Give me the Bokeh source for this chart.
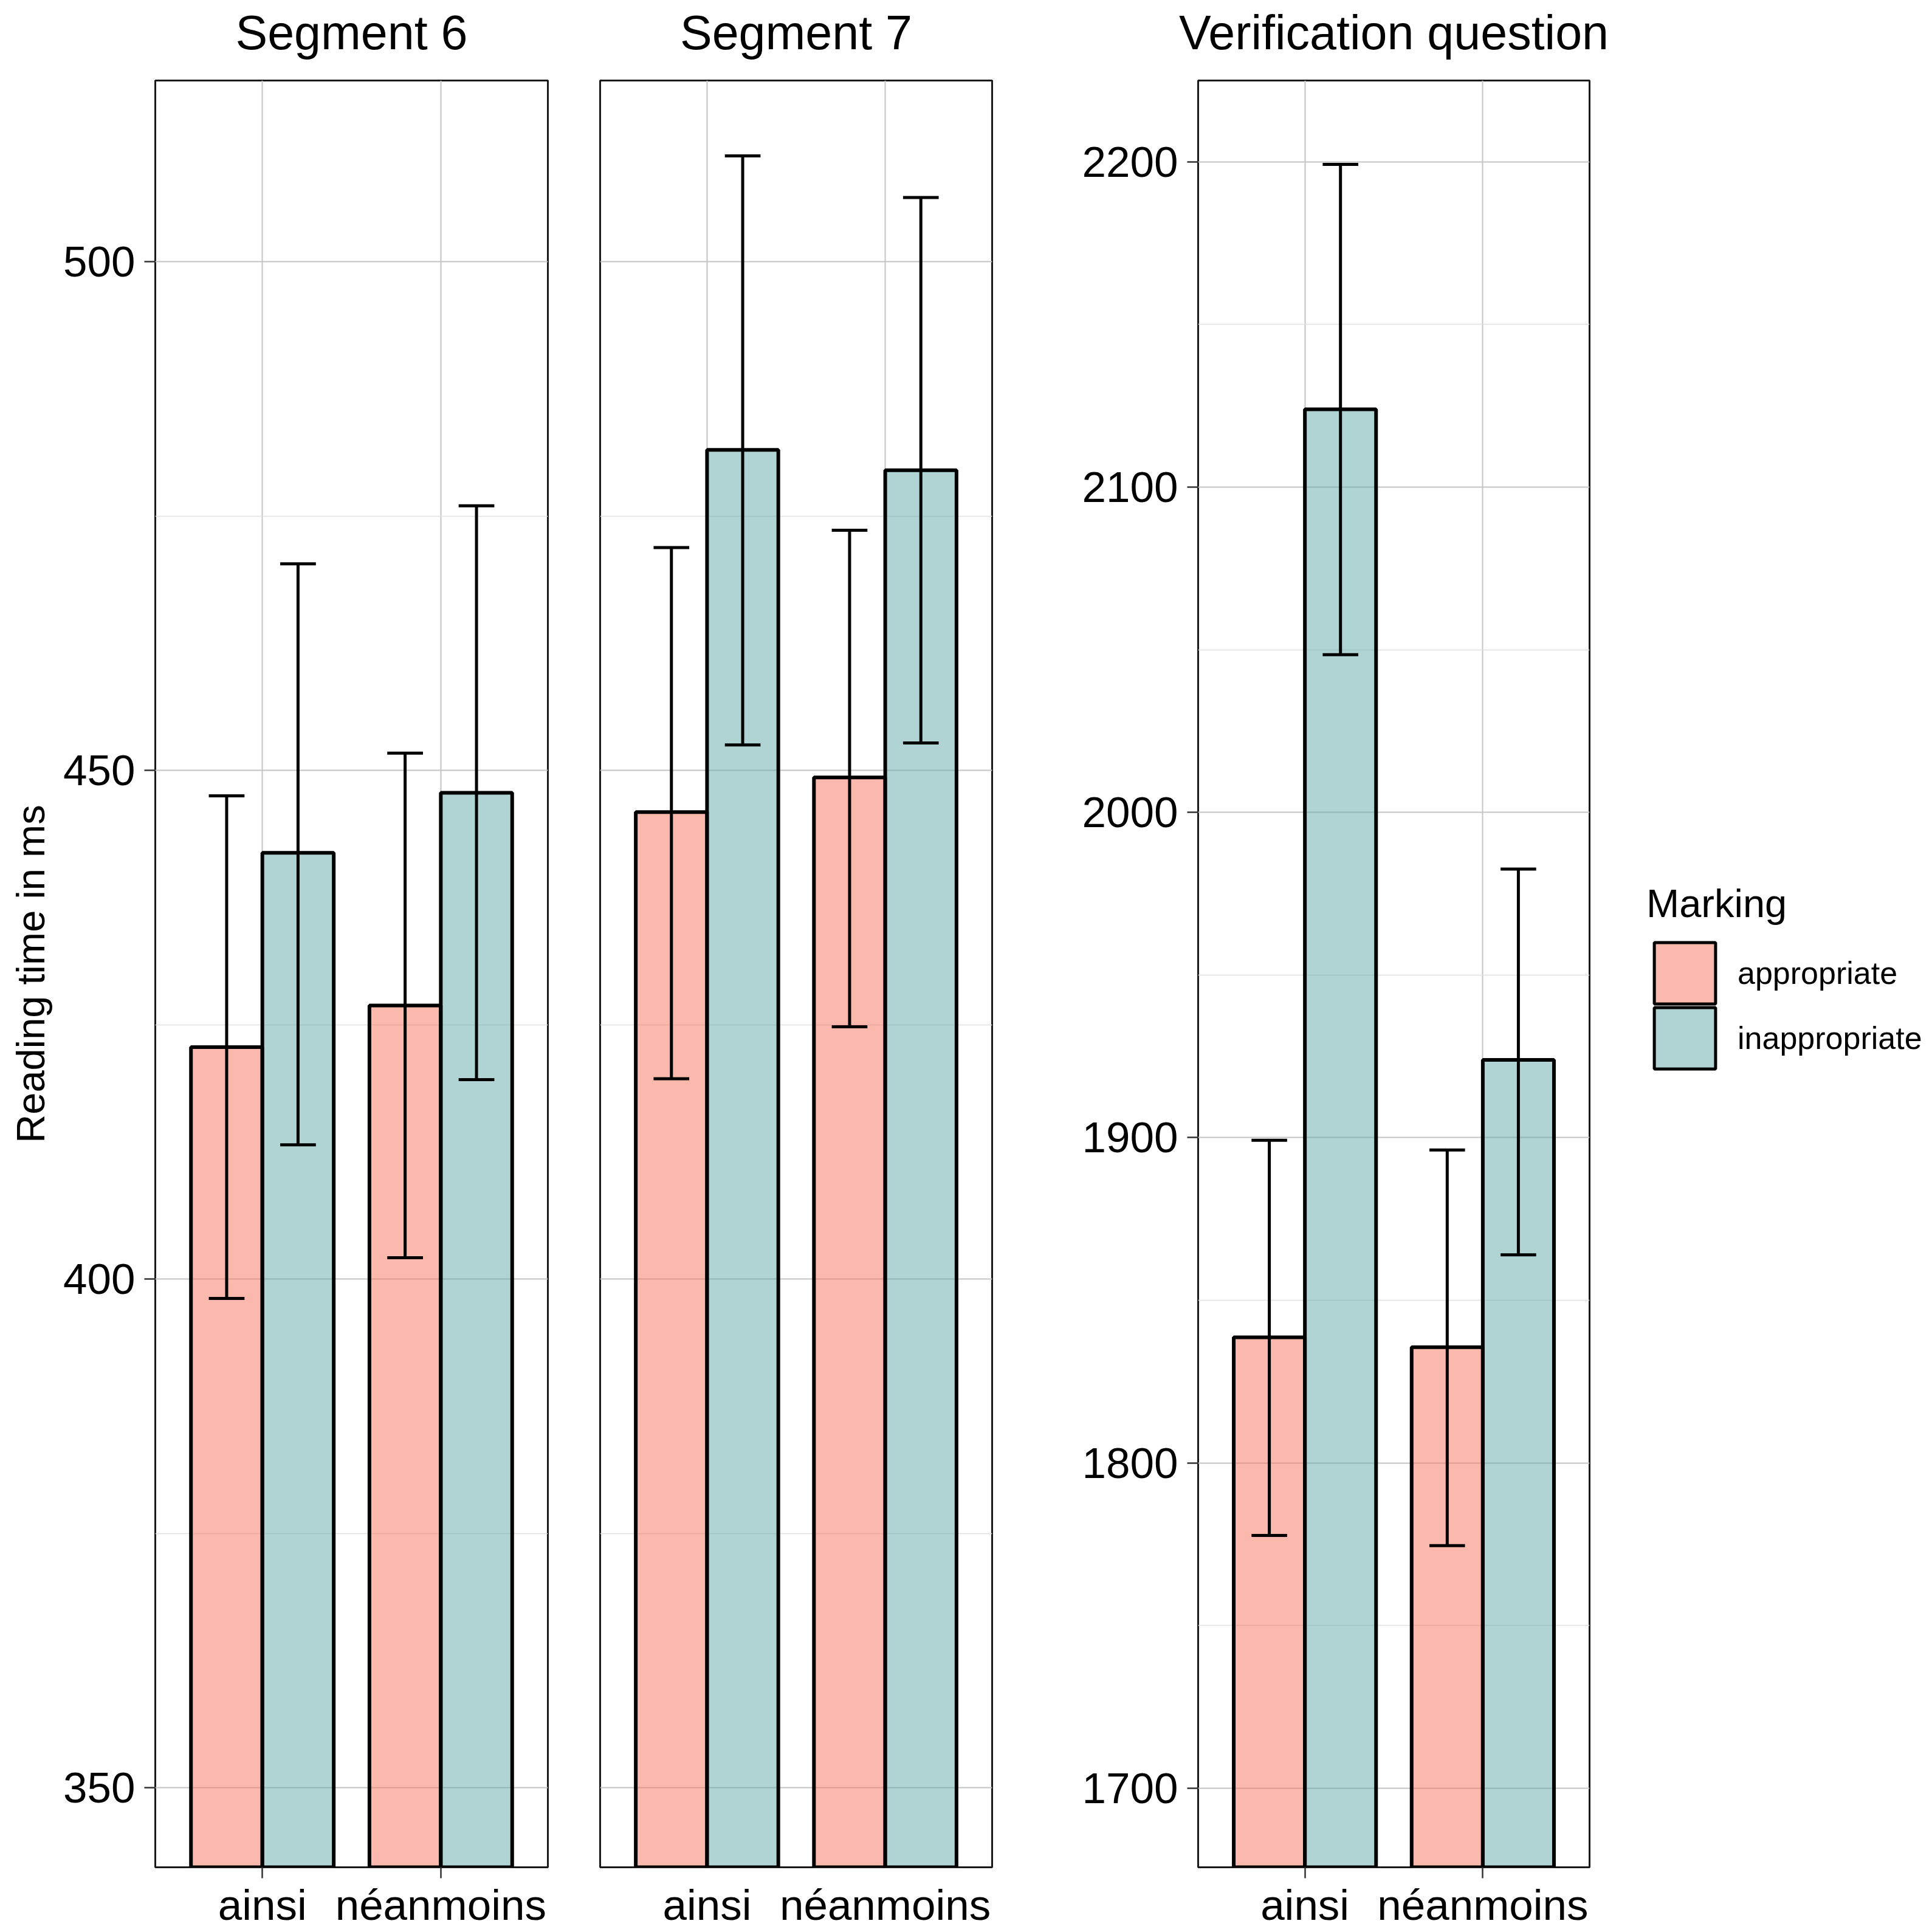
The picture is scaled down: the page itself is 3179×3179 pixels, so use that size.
from bokeh.plotting import figure
from bokeh.layouts import row
from bokeh.models import (Range1d, FixedTicker, Legend, LegendItem,
                          ColumnDataSource, LinearAxis)
from bokeh.embed import file_html
from bokeh.resources import INLINE
import numpy as np

FONT = "Liberation Sans"

# ---------------- data ----------------
panel_titles = ["Segment 6", "Segment 7", "Verification question"]
categories = ["ainsi", "néanmoins"]
markings = ["appropriate", "inappropriate"]

seg6_app = [422.8, 426.9]
seg6_app_lo = [398.1, 402.1]
seg6_app_hi = [447.5, 451.7]
seg6_inapp = [441.9, 447.8]
seg6_inapp_lo = [413.2, 419.6]
seg6_inapp_hi = [470.3, 476.0]

seg7_app = [445.9, 449.3]
seg7_app_lo = [419.7, 424.8]
seg7_app_hi = [471.9, 473.6]
seg7_inapp = [481.5, 479.5]
seg7_inapp_lo = [452.5, 452.7]
seg7_inapp_hi = [510.4, 506.3]

verif_app = [1838.6, 1835.6]
verif_app_lo = [1777.7, 1774.6]
verif_app_hi = [1899.2, 1896.2]
verif_inapp = [2123.9, 1923.9]
verif_inapp_lo = [2048.5, 1864.0]
verif_inapp_hi = [2199.2, 1982.6]

rt_ticks = [350, 400, 450, 500]
rt_minor = [375, 425, 475]
verif_ticks = [1700, 1800, 1900, 2000, 2100, 2200]
verif_minor = [1750, 1850, 1950, 2050, 2150]

# ---------------- style ----------------
fill_colors = ["#F7715A", "#61A9A9"]
FILL_ALPHA = 0.5
H = 3179
TOP = 132
BOTTOM = 107
X_RANGE = (0.4, 2.6)

xpos = np.arange(1, len(categories) + 1)
BAR_W = 0.4
CAP_W = 0.2


def make_panel(title, width, left, right, yr, ticks, minor, show_y_labels,
               show_x_ticks, ylabel=None):
    p = figure(width=width, height=H, x_range=Range1d(*X_RANGE),
               y_range=Range1d(*yr), output_backend="svg",
               toolbar_location=None, title=title,
               min_border_left=left, min_border_right=right,
               min_border_top=TOP, min_border_bottom=BOTTOM)
    p.background_fill_color = "white"
    p.border_fill_color = "white"
    p.outline_line_color = "#1a1a1a"
    p.outline_line_width = 3

    p.title.align = "center"
    p.title.text_font = FONT
    p.title.text_font_size = "79px"
    p.title.text_font_style = "normal"
    p.title.text_color = "black"
    p.title.standoff = 12

    # blank spacer axis between frame and title: a hidden tick, blank label
    mid = sum(X_RANGE) / 2
    spacer = LinearAxis(ticker=FixedTicker(ticks=[mid]), axis_line_color=None,
                        major_tick_out=25, major_tick_in=0, minor_tick_out=0,
                        minor_tick_in=0, major_label_standoff=0,
                        major_tick_line_color="white",
                        major_tick_line_alpha=0.0,
                        major_label_text_font_size="1px",
                        major_label_text_color="white",
                        major_label_overrides={mid: " "},
                        minor_tick_line_color=None)
    p.add_layout(spacer, "above")

    # x axis
    xa = p.below[0]
    xa.ticker = FixedTicker(ticks=list(xpos))
    xa.major_label_overrides = {int(x): c for x, c in zip(xpos, categories)}
    xa.major_label_text_font = FONT
    xa.major_label_text_font_size = "71px"
    xa.major_label_text_color = "black"
    xa.axis_line_color = None
    xa.minor_tick_out = 0
    xa.minor_tick_in = 0
    xa.major_tick_in = 0
    xa.major_tick_line_color = "#333333"
    xa.major_tick_line_width = 2.5
    if show_x_ticks:
        xa.major_tick_out = 18
        xa.major_label_standoff = 4
    else:
        xa.major_tick_out = 0
        xa.major_label_standoff = 22

    # y axis
    ya = p.yaxis[0]
    ya.ticker = FixedTicker(ticks=ticks, minor_ticks=minor)
    ya.axis_line_color = None
    ya.minor_tick_out = 0
    ya.minor_tick_in = 0
    ya.major_tick_in = 0
    ya.major_tick_out = 18
    ya.major_tick_line_color = "#333333"
    ya.major_tick_line_width = 2.5
    ya.major_label_text_font = FONT
    ya.major_label_text_font_size = "71px"
    ya.major_label_text_color = "black"
    ya.major_label_standoff = 15
    if ylabel:
        ya.axis_label = ylabel
        ya.axis_label_text_font = FONT
        ya.axis_label_text_font_size = "65px"
        ya.axis_label_text_font_style = "normal"
        ya.axis_label_text_color = "black"
        ya.axis_label_standoff = 14
    if not show_y_labels:
        ya.visible = False

    # grids
    p.xgrid.ticker = FixedTicker(ticks=list(xpos))
    p.xgrid.grid_line_color = "#C4C4C4"
    p.xgrid.grid_line_width = 2
    p.ygrid.ticker = FixedTicker(ticks=ticks, minor_ticks=minor)
    p.ygrid.grid_line_color = "#C4C4C4"
    p.ygrid.grid_line_width = 2
    p.ygrid.minor_grid_line_color = "#E0E0E0"
    p.ygrid.minor_grid_line_width = 1.5
    return p


def add_bars(p, series):
    rends = []
    for j, (vals, lo, hi) in enumerate(series):
        off = (j - 0.5) * BAR_W
        x = xpos + off
        src = ColumnDataSource(dict(x=x, xl=x - CAP_W / 2, xr=x + CAP_W / 2,
                                    top=vals, lo=lo, hi=hi))
        r = p.vbar(x="x", top="top", bottom=0, width=BAR_W, source=src,
                   fill_color=fill_colors[j], fill_alpha=FILL_ALPHA,
                   line_color="black", line_width=6)
        p.segment(x0="x", x1="x", y0="lo", y1="hi", source=src,
                  line_color="black", line_width=5)
        p.segment(x0="xl", x1="xr", y0="hi", y1="hi", source=src,
                  line_color="black", line_width=5)
        p.segment(x0="xl", x1="xr", y0="lo", y1="lo", source=src,
                  line_color="black", line_width=5)
        rends.append(r)
    return rends


W1, W2, W3 = 944, 736, 985

p1 = make_panel(panel_titles[0], W1, 255, 43, (342.2, 517.8), rt_ticks,
                rt_minor, True, True, ylabel="Reading time in ms")
add_bars(p1, [(seg6_app, seg6_app_lo, seg6_app_hi),
              (seg6_inapp, seg6_inapp_lo, seg6_inapp_hi)])

p2 = make_panel(panel_titles[1], W2, 43, 48, (342.2, 517.8), rt_ticks,
                rt_minor, False, False)
add_bars(p2, [(seg7_app, seg7_app_lo, seg7_app_hi),
              (seg7_inapp, seg7_inapp_lo, seg7_inapp_hi)])

p3 = make_panel(panel_titles[2], W3, 291, 50, (1675.7, 2225.0), verif_ticks,
                verif_minor, True, True)
add_bars(p3, [(verif_app, verif_app_lo, verif_app_hi),
              (verif_inapp, verif_inapp_lo, verif_inapp_hi)])

# ---------------- legend panel ----------------
W4 = 3179 - W1 - W2 - W3
p4 = figure(width=W4, height=H, x_range=Range1d(0, 1),
            y_range=Range1d(0, 1), output_backend="svg", toolbar_location=None,
            min_border_left=0, min_border_right=0, min_border_top=TOP,
            min_border_bottom=BOTTOM)
p4.axis.visible = False
p4.grid.visible = False
p4.outline_line_color = None
p4.background_fill_color = "white"
p4.border_fill_color = "white"
legend_renderers = []
for j, m in enumerate(markings):
    # dummy renderer without a drawable point; only feeds the legend key
    src = ColumnDataSource(dict(x=[float("nan")], top=[float("nan")]))
    r = p4.vbar(x="x", top="top", bottom=0, width=0.1, source=src,
                fill_color=fill_colors[j], fill_alpha=FILL_ALPHA,
                line_color="black", line_width=5)
    legend_renderers.append(r)

common = dict(label_text_font=FONT, label_text_font_size="52px",
              label_text_color="black", label_standoff=24,
              glyph_width=126, glyph_height=126, spacing=0,
              padding=0, margin=0, border_line_color=None,
              background_fill_alpha=0)
legend1 = Legend(items=[LegendItem(label=markings[0],
                                   renderers=[legend_renderers[0]])],
                 location=(44, 1408), title="Marking",
                 title_text_font=FONT, title_text_font_size="65px",
                 title_text_font_style="normal", title_text_color="black",
                 title_standoff=14, **common)
legend2 = Legend(items=[LegendItem(label=markings[1],
                                   renderers=[legend_renderers[1]])],
                 location=(44, 1301), **common)
p4.add_layout(legend1, "center")
p4.add_layout(legend2, "center")

layout = row(p1, p2, p3, p4, spacing=0)
open("out.html", "w").write(file_html(layout, INLINE))
